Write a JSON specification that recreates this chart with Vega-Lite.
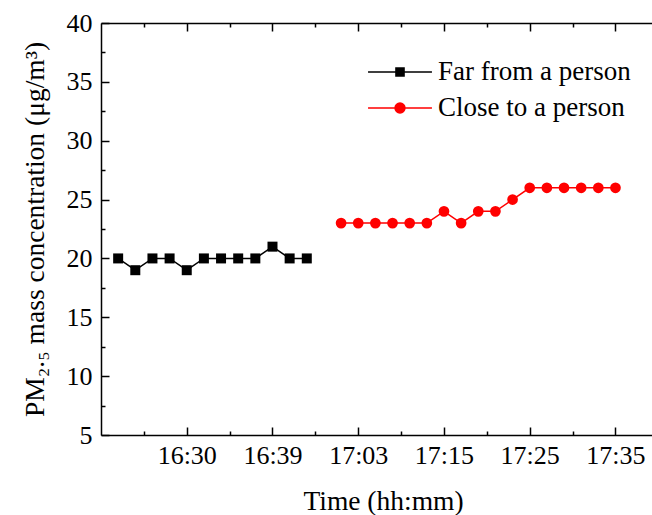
{
  "$schema": "https://vega.github.io/schema/vega-lite/v6.json",
  "width": 551,
  "height": 412,
  "autosize": {"type": "none"},
  "padding": {"left": 101, "top": 23, "right": 0, "bottom": 80},
  "background": "white",
  "config": {
    "view": {"stroke": null},
    "font": "Liberation Serif",
    "axis": {
      "labelFont": "Liberation Serif",
      "titleFont": "Liberation Serif",
      "labelColor": "black",
      "titleColor": "black",
      "domainColor": "black",
      "tickColor": "black",
      "grid": false,
      "labelFontSize": 26,
      "titleFontSize": 27.5,
      "titleFontWeight": "normal",
      "domainWidth": 1.5,
      "tickWidth": 1.5
    },
    "legend": {
      "labelFont": "Liberation Serif",
      "labelFontSize": 27,
      "labelColor": "black",
      "labelLimit": 400,
      "symbolSize": 900,
      "symbolStrokeWidth": 1.5,
      "rowPadding": 7,
      "labelOffset": 22,
      "padding": 0
    }
  },
  "data": {
    "values": [
      {"i": 0, "pm": 20, "series": "Far from a person"},
      {"i": 1, "pm": 19, "series": "Far from a person"},
      {"i": 2, "pm": 20, "series": "Far from a person"},
      {"i": 3, "pm": 20, "series": "Far from a person"},
      {"i": 4, "pm": 19, "series": "Far from a person"},
      {"i": 5, "pm": 20, "series": "Far from a person"},
      {"i": 6, "pm": 20, "series": "Far from a person"},
      {"i": 7, "pm": 20, "series": "Far from a person"},
      {"i": 8, "pm": 20, "series": "Far from a person"},
      {"i": 9, "pm": 21, "series": "Far from a person"},
      {"i": 10, "pm": 20, "series": "Far from a person"},
      {"i": 11, "pm": 20, "series": "Far from a person"},
      {"i": 13, "pm": 23, "series": "Close to a person"},
      {"i": 14, "pm": 23, "series": "Close to a person"},
      {"i": 15, "pm": 23, "series": "Close to a person"},
      {"i": 16, "pm": 23, "series": "Close to a person"},
      {"i": 17, "pm": 23, "series": "Close to a person"},
      {"i": 18, "pm": 23, "series": "Close to a person"},
      {"i": 19, "pm": 24, "series": "Close to a person"},
      {"i": 20, "pm": 23, "series": "Close to a person"},
      {"i": 21, "pm": 24, "series": "Close to a person"},
      {"i": 22, "pm": 24, "series": "Close to a person"},
      {"i": 23, "pm": 25, "series": "Close to a person"},
      {"i": 24, "pm": 26, "series": "Close to a person"},
      {"i": 25, "pm": 26, "series": "Close to a person"},
      {"i": 26, "pm": 26, "series": "Close to a person"},
      {"i": 27, "pm": 26, "series": "Close to a person"},
      {"i": 28, "pm": 26, "series": "Close to a person"},
      {"i": 29, "pm": 26, "series": "Close to a person"}
    ]
  },
  "layer": [
    {
      "mark": {"type": "line", "strokeWidth": 1.5},
      "encoding": {
        "x": {
          "field": "i", "type": "quantitative",
          "scale": {"domain": [-1, 31.13], "nice": false, "zero": false},
          "axis": {
            "orient": "bottom",
            "values": [4, 9, 14, 19, 24, 29],
            "labelExpr": "datum.value == 4 ? '16:30' : datum.value == 9 ? '16:39' : datum.value == 14 ? '17:03' : datum.value == 19 ? '17:15' : datum.value == 24 ? '17:25' : '17:35'",
            "tickSize": -8,
            "labelPadding": 15,
            "title": "Time (hh:mm)",
            "titlePadding": 19,
            "titleX": 282
          }
        },
        "y": {
          "field": "pm", "type": "quantitative",
          "scale": {"domain": [5, 40], "nice": false, "zero": false},
          "axis": {
            "orient": "left",
            "values": [5, 10, 15, 20, 25, 30, 35, 40],
            "tickSize": -8,
            "labelPadding": 17,
            "title": "PM₂.₅ mass concentration (μg/m³)",
            "titlePadding": 17
          }
        },
        "color": {
          "field": "series", "type": "nominal",
          "scale": {"domain": ["Far from a person", "Close to a person"], "range": ["black", "red"]},
          "legend": {
            "orient": "none",
            "legendX": 283,
            "legendY": 33,
            "title": null,
            "encoding": {
              "symbols": {
                "shape": {"value": {"expr": "datum.value == 'Far from a person' ? 'M-2.13,0H2.13M-0.27,-0.27H0.27V0.27H-0.27Z' : 'M-2.13,0H2.13M0.33,0A0.33,0.33 0 1,1 -0.33,0A0.33,0.33 0 1,1 0.33,0Z'"}},
                "fill": {"value": {"expr": "datum.value == 'Far from a person' ? 'black' : 'red'"}},
                "stroke": {"value": {"expr": "datum.value == 'Far from a person' ? 'black' : 'red'"}},
                "strokeWidth": {"value": 1.5},
                "opacity": {"value": 1}
              }
            }
          }
        }
      }
    },
    {
      "transform": [{"filter": "datum.series == 'Far from a person'"}],
      "mark": {"type": "point", "filled": true, "opacity": 1, "shape": "square", "size": 100, "color": "black"},
      "encoding": {
        "x": {
          "field": "i", "type": "quantitative",
          "scale": {"domain": [-1, 31.13], "nice": false, "zero": false},
          "axis": {
            "orient": "bottom",
            "values": [1.5, 6.5, 11.5, 16.5, 21.5, 26.5, 31.5],
            "tickSize": -4,
            "labels": false,
            "domain": false,
            "title": null
          }
        },
        "y": {
          "field": "pm", "type": "quantitative",
          "scale": {"domain": [5, 40], "nice": false, "zero": false},
          "axis": {
            "orient": "left",
            "values": [7.5, 12.5, 17.5, 22.5, 27.5, 32.5, 37.5],
            "tickSize": -4,
            "labels": false,
            "domain": false,
            "title": null
          }
        }
      }
    },
    {
      "transform": [{"filter": "datum.series == 'Close to a person'"}],
      "mark": {"type": "point", "filled": true, "opacity": 1, "shape": "circle", "size": 115, "color": "red"},
      "encoding": {
        "x": {
          "field": "i", "type": "quantitative",
          "scale": {"domain": [-1, 31.13], "nice": false, "zero": false},
          "axis": {
            "orient": "top",
            "values": [4, 9, 14, 19, 24, 29],
            "tickSize": -8,
            "labels": false,
            "domain": true,
            "title": null
          }
        },
        "y": {
          "field": "pm", "type": "quantitative",
          "scale": {"domain": [5, 40], "nice": false, "zero": false},
          "axis": null
        }
      }
    },
    {
      "mark": {"type": "point", "opacity": 0},
      "encoding": {
        "x": {
          "field": "i", "type": "quantitative",
          "scale": {"domain": [-1, 31.13], "nice": false, "zero": false},
          "axis": {
            "orient": "top",
            "values": [1.5, 6.5, 11.5, 16.5, 21.5, 26.5, 31.5],
            "tickSize": -4,
            "labels": false,
            "domain": false,
            "title": null
          }
        },
        "y": {
          "field": "pm", "type": "quantitative",
          "scale": {"domain": [5, 40], "nice": false, "zero": false},
          "axis": null
        }
      }
    }
  ],
  "resolve": {"axis": {"x": "independent", "y": "independent"}}
}
